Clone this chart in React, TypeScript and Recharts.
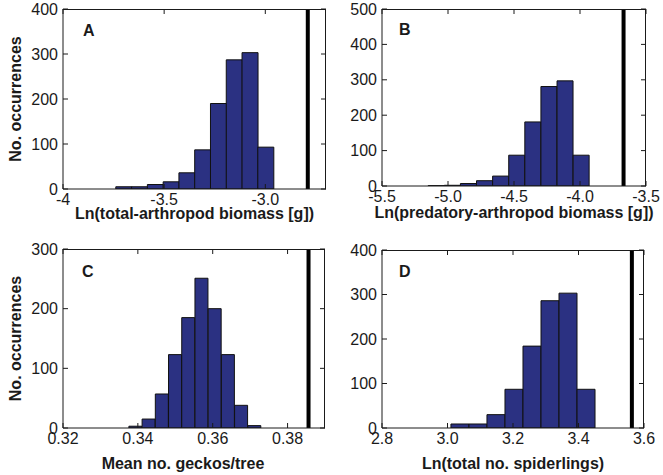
import { BarChart, Bar, XAxis, YAxis, ReferenceLine } from "recharts";

// A: total arthropod biomass
const binsA = [-3.7, -3.622, -3.544, -3.466, -3.388, -3.31, -3.232, -3.154, -3.076, -2.998];
const countsA = [5, 5, 10, 16, 36, 87, 190, 287, 303, 93];
const xTicksA = [-4, -3.5, -3];
const xLabelsA = ["-4", "-3.5", "-3.0"];
const yTicksA = [0, 100, 200, 300, 400];
const observedA = -2.79;

// B: predatory arthropod biomass
const binsB = [-5.089, -4.967, -4.845, -4.723, -4.601, -4.479, -4.357, -4.235, -4.113, -3.991];
const countsB = [1, 2, 7, 15, 28, 87, 181, 281, 297, 87];
const xTicksB = [-5.5, -5, -4.5, -4, -3.5];
const xLabelsB = ["-5.5", "-5.0", "-4.5", "-4.0", "-3.5"];
const yTicksB = [0, 100, 200, 300, 400, 500];
const observedB = -3.67;

// C: geckos per tree
const binsC = [0.33937, 0.3429, 0.34643, 0.34996, 0.35349, 0.35702, 0.36055, 0.36408, 0.36761, 0.37114];
const countsC = [3, 15, 57, 123, 185, 251, 200, 123, 38, 4];
const xTicksC = [0.32, 0.34, 0.36, 0.38];
const xLabelsC = ["0.32", "0.34", "0.36", "0.38"];
const yTicksC = [0, 100, 200, 300];
const observedC = 0.3856;

// D: spiderlings
const binsD = [3.038, 3.093, 3.148, 3.203, 3.258, 3.313, 3.368, 3.423];
const countsD = [9, 9, 30, 87, 184, 286, 303, 87];
const xTicksD = [2.8, 3.0, 3.2, 3.4, 3.6];
const xLabelsD = ["2.8", "3.0", "3.2", "3.4", "3.6"];
const yTicksD = [0, 100, 200, 300, 400];
const observedD = 3.563;

const BAR = "#2b3182";
const INK = "#1a1a1a";
const TICK = 5;

type HistProps = {
  bins: number[];
  counts: number[];
  xDomain: [number, number];
  xTicks: number[];
  xLabels: string[];
  yTicks: number[];
  observed: number;
  xTitle: string;
  yTitle?: string;
  width: number;
  height: number;
  margin: { top: number; right: number; bottom: number; left: number };
  yAxisWidth: number;
  xAxisHeight: number;
  titleOffset: number;
  titleDx?: number;
};

function Histogram(p: HistProps) {
  const data = p.bins.map((b, i) => ({ x: b, n: p.counts[i] }));
  const yMax = p.yTicks[p.yTicks.length - 1];
  const plotTop = p.margin.top;
  const plotLeft = p.margin.left + p.yAxisWidth;
  const plotRight = p.width - p.margin.right;
  const plotBottom = p.height - p.margin.bottom - p.xAxisHeight;
  const fmt = (v: number) => {
    const i = p.xTicks.findIndex((t) => Math.abs(t - v) < 1e-9);
    return i >= 0 ? p.xLabels[i] : String(v);
  };
  const titleStyle = { fontWeight: "bold", fontSize: 16, fill: INK };

  // MATLAB-style box: every tick also gets a mirrored inward mark on the opposite side
  const xTick = (t: any) => (
    <g>
      <text x={t.x} y={t.y} dy="0.71em" textAnchor="middle" fill={INK} fontSize={16}>
        {fmt(t.payload.value)}
      </text>
      <line x1={t.x} x2={t.x} y1={plotTop} y2={plotTop + TICK} stroke={INK} strokeWidth={1} />
    </g>
  );
  const yTick = (t: any) => (
    <g>
      <text x={t.x} y={t.y} dy="0.355em" textAnchor="end" fill={INK} fontSize={16}>
        {t.payload.value}
      </text>
      <line x1={plotRight - TICK} x2={plotRight} y1={t.y} y2={t.y} stroke={INK} strokeWidth={1} />
    </g>
  );

  return (
    <div style={{ position: "relative", width: p.width, height: p.height }}>
      <BarChart width={p.width} height={p.height} data={data} margin={p.margin} barCategoryGap={0} barGap={0}>
        <XAxis
          dataKey="x"
          type="number"
          domain={p.xDomain}
          ticks={p.xTicks}
          interval={0}
          allowDataOverflow
          height={p.xAxisHeight}
          tickSize={-TICK}
          tickMargin={10}
          stroke={INK}
          tick={xTick}
          label={{ value: p.xTitle, position: "insideBottom", offset: p.titleOffset, dx: p.titleDx ?? 0, style: titleStyle }}
        />
        <YAxis
          type="number"
          domain={[0, yMax]}
          ticks={p.yTicks}
          interval={0}
          allowDataOverflow
          width={p.yAxisWidth}
          tickSize={-TICK}
          tickMargin={10}
          stroke={INK}
          tick={yTick}
          label={
            p.yTitle
              ? { value: p.yTitle, angle: -90, position: "insideLeft", offset: 15, style: { ...titleStyle, textAnchor: "middle" } }
              : undefined
          }
        />
        <Bar dataKey="n" fill={BAR} stroke="#111" strokeWidth={1} isAnimationActive={false} />
        <ReferenceLine x={p.observed} stroke="#000" strokeWidth={4} />
      </BarChart>
      {/* top and right edges of the axes box */}
      <div
        style={{
          position: "absolute",
          left: plotLeft,
          top: plotTop,
          width: plotRight - plotLeft,
          height: plotBottom - plotTop,
          boxSizing: "border-box",
          borderTop: `1px solid ${INK}`,
          borderRight: `1px solid ${INK}`,
          pointerEvents: "none",
        }}
      />
    </div>
  );
}

const letter = (ch: string, left: number, top: number) => (
  <div style={{ position: "absolute", left, top, fontSize: 16, fontWeight: "bold", lineHeight: 1, color: INK }}>{ch}</div>
);

export default function App() {
  return (
    <div
      style={{
        position: "absolute",
        left: 0,
        top: 0,
        width: 663,
        height: 475,
        background: "#fff",
        fontFamily: "'Liberation Sans', Arial, sans-serif",
      }}
    >
      <div style={{ position: "absolute", left: 0, top: 0 }}>
        <Histogram
          bins={binsA}
          counts={countsA}
          xDomain={[-4, -2.7]}
          xTicks={xTicksA}
          xLabels={xLabelsA}
          yTicks={yTicksA}
          observed={observedA}
          xTitle="Ln(total-arthropod biomass [g])"
          yTitle="No. occurrences"
          width={331}
          height={230}
          margin={{ top: 9, right: 5, bottom: 0, left: 0 }}
          yAxisWidth={63}
          xAxisHeight={41}
          titleOffset={11}
        />
      </div>
      <div style={{ position: "absolute", left: 331, top: 0 }}>
        <Histogram
          bins={binsB}
          counts={countsB}
          xDomain={[-5.5, -3.5]}
          xTicks={xTicksB}
          xLabels={xLabelsB}
          yTicks={yTicksB}
          observed={observedB}
          xTitle="Ln(predatory-arthropod biomass [g])"
          width={332}
          height={230}
          margin={{ top: 9, right: 17, bottom: 0, left: 0 }}
          yAxisWidth={51}
          xAxisHeight={44}
          titleOffset={12}
        />
      </div>
      <div style={{ position: "absolute", left: 0, top: 230 }}>
        <Histogram
          bins={binsC}
          counts={countsC}
          xDomain={[0.32, 0.39]}
          xTicks={xTicksC}
          xLabels={xLabelsC}
          yTicks={yTicksC}
          observed={observedC}
          xTitle="Mean no. geckos/tree"
          yTitle="No. occurrences"
          width={331}
          height={245}
          margin={{ top: 19, right: 6, bottom: 0, left: 0 }}
          yAxisWidth={63}
          xAxisHeight={47}
          titleOffset={6}
          titleDx={-11}
        />
      </div>
      <div style={{ position: "absolute", left: 331, top: 230 }}>
        <Histogram
          bins={binsD}
          counts={countsD}
          xDomain={[2.8, 3.6]}
          xTicks={xTicksD}
          xLabels={xLabelsD}
          yTicks={yTicksD}
          observed={observedD}
          xTitle="Ln(total no. spiderlings)"
          width={332}
          height={245}
          margin={{ top: 20, right: 19, bottom: 0, left: 0 }}
          yAxisWidth={51}
          xAxisHeight={47}
          titleOffset={6}
        />
      </div>
      {letter("A", 83, 23)}
      {letter("B", 399, 22)}
      {letter("C", 82, 264)}
      {letter("D", 399, 264)}
    </div>
  );
}
